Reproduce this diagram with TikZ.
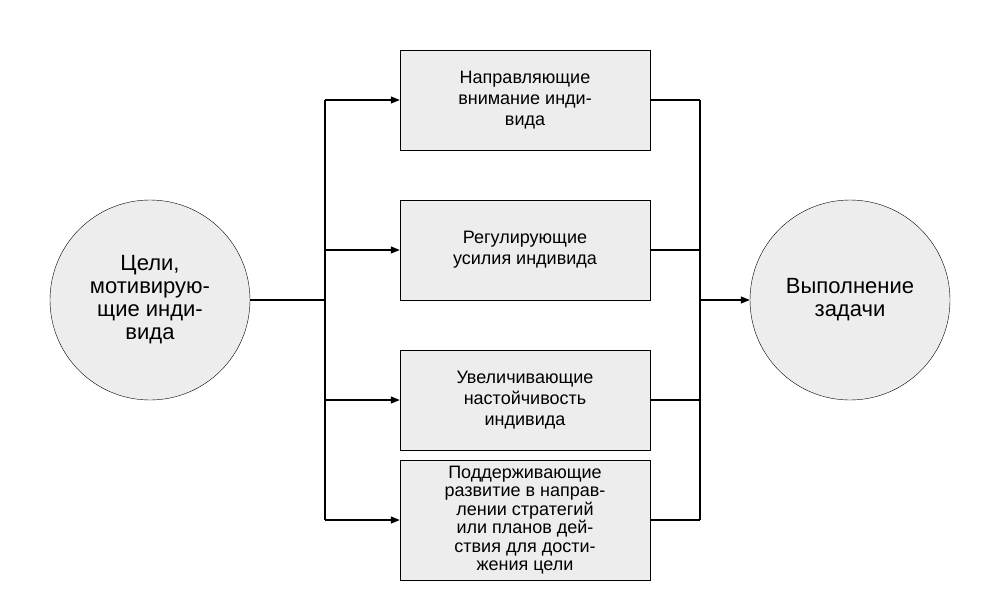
\documentclass[tikz,border=0pt]{standalone}
\usepackage{fontspec}
\setmainfont{Liberation Sans}
\usetikzlibrary{arrows.meta}
\begin{document}
\begin{tikzpicture}[x=1pt,y=-1pt,
  circ/.style={draw,circle,fill=black!7,minimum size=200pt,inner sep=0pt,align=center,font=\fontsize{22}{23}\selectfont},
  box/.style={draw,fill=black!7,minimum width=250pt,inner sep=0pt,align=center,font=\fontsize{18}{21}\selectfont},
  line/.style={line width=1.2pt},
  arr/.style={line width=1.2pt,-{Triangle[length=9pt,width=7pt]}}]
\useasboundingbox (0,0) rectangle (1000,600);
\node[circ] (L) at (150,300) {Цели,\\мотивирую-\\щие инди-\\вида};
\node[circ] (R) at (850,300) {Выполнение\\задачи};
\node[box,minimum height=100pt] (b1) at (525,100) {Направляющие\\внимание инди-\\вида};
\node[box,minimum height=100pt] (b2) at (525,250) {Регулирующие\\усилия индивида};
\node[box,minimum height=100pt] (b3) at (525,400) {Увеличивающие\\настойчивость\\индивида};
\node[box,minimum height=120pt,font=\fontsize{18}{18.5}\selectfont] (b4) at (525,520) {Поддерживающие\\развитие в направ-\\лении стратегий\\или планов дей-\\ствия для дости-\\жения цели};
\coordinate (lt) at (325,300);
\coordinate (rt) at (700,300);
\draw[line] (L.east) -- (lt);
\draw[line] (325,100) -- (325,520);
\draw[line] (700,100) -- (700,520);
\foreach \b in {b1,b2,b3,b4}{
  \draw[arr] (325,0 |- \b.west) -- (\b.west);
  \draw[line] (\b.east) -- (700,0 |- \b.east);
}
\draw[arr] (rt) -- (R.west);
\end{tikzpicture}
\end{document}
